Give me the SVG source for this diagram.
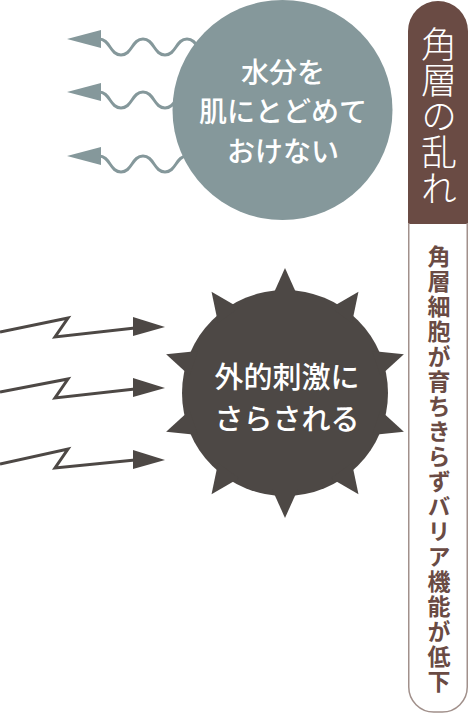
<svg xmlns="http://www.w3.org/2000/svg" xmlns:xlink="http://www.w3.org/1999/xlink" width="469" height="714" viewBox="0 0 469 714">
<style>
.wave{fill:none;stroke:#85989b;stroke-width:3;stroke-linejoin:round}
.wavehead{fill:#85989b}
.zig{fill:none;stroke:#4d4845;stroke-width:3;stroke-linejoin:miter}
.zighead{fill:#4d4845}
.ctext{font-family:"Noto Sans CJK JP","Noto Sans",sans-serif;fill:#ffffff;text-anchor:middle;font-weight:500}
.tag{font-family:"Noto Sans CJK JP","Noto Sans",sans-serif;fill:#ffffff;font-size:36px;font-weight:300;writing-mode:vertical-rl}
.sub{font-family:"Noto Sans CJK JP","Noto Sans",sans-serif;fill:#6a4b44;font-size:23px;font-weight:700;letter-spacing:2px;writing-mode:vertical-rl}
</style>
<defs>
<path id="wv" d="M99,0 C110,0 110,16 121,16 C132,16 132,0 143,0 C154,0 154,16 165,16 C176,16 176,0 187,0 C198,0 198,16 209,16"/>
<polygon id="spike" points="0,-125 -13,-96 13,-96"/>
</defs>
<g id="connectors">
<g transform="translate(0,39)"><use xlink:href="#wv" class="wave"/><polygon class="wavehead" points="67,0 101,-9 101,9"/></g>
<g transform="translate(0,92)"><use xlink:href="#wv" class="wave"/><polygon class="wavehead" points="67,0 101,-9 101,9"/></g>
<g transform="translate(0,156)"><use xlink:href="#wv" class="wave"/><polygon class="wavehead" points="67,0 101,-9 101,9"/></g>
<g transform="translate(0,327)"><polyline class="zig" points="0,5 68,-9 55,10 135,1"/><polygon class="zighead" points="165,0 133,-10 133,9"/></g>
<g transform="translate(0,388)"><polyline class="zig" points="0,4 68,-9 55,10 135,1"/><polygon class="zighead" points="165,0 133,-10 133,9"/></g>
<g transform="translate(0,460)"><polyline class="zig" points="0,4 68,-11 55,8 135,0"/><polygon class="zighead" points="165,0 133,-10 133,9"/></g>
</g>
<g id="node-moisture">
<circle cx="282.5" cy="110" r="110" fill="#85989b"/>
<text class="ctext" font-size="28" x="283" y="83">水分を</text>
<text class="ctext" font-size="28" x="283" y="122">肌にとどめて</text>
<text class="ctext" font-size="28" x="283" y="162">おけない</text>
</g>
<g id="node-stimulus">
<g fill="#4d4845">
<circle cx="285" cy="393" r="103"/>
<use xlink:href="#spike" transform="translate(285,393) rotate(0)"/>
<use xlink:href="#spike" transform="translate(285,393) rotate(36)"/>
<use xlink:href="#spike" transform="translate(285,393) rotate(72)"/>
<use xlink:href="#spike" transform="translate(285,393) rotate(108)"/>
<use xlink:href="#spike" transform="translate(285,393) rotate(144)"/>
<use xlink:href="#spike" transform="translate(285,393) rotate(180)"/>
<use xlink:href="#spike" transform="translate(285,393) rotate(216)"/>
<use xlink:href="#spike" transform="translate(285,393) rotate(252)"/>
<use xlink:href="#spike" transform="translate(285,393) rotate(288)"/>
<use xlink:href="#spike" transform="translate(285,393) rotate(324)"/>
</g>
<text class="ctext" font-size="29" x="287" y="388">外的刺激に</text>
<text class="ctext" font-size="29" x="287" y="430">さらされる</text>
</g>
<g id="node-tag">
<path d="M408,224 V31 A30,30 0 0 1 468,31 V224 Z" fill="#6a4b44"/>
<text class="tag" x="439" y="26">角層の乱れ</text>
</g>
<g id="node-desc">
<path d="M408.75,223 V687 A25,25 0 0 0 433.75,712 H442.25 A25,25 0 0 0 467.25,687 V223" fill="none" stroke="#a1908b" stroke-width="1.5"/>
<text class="sub" x="439" y="245">角層細胞が育ちきらずバリア機能が低下</text>
</g>
</svg>
